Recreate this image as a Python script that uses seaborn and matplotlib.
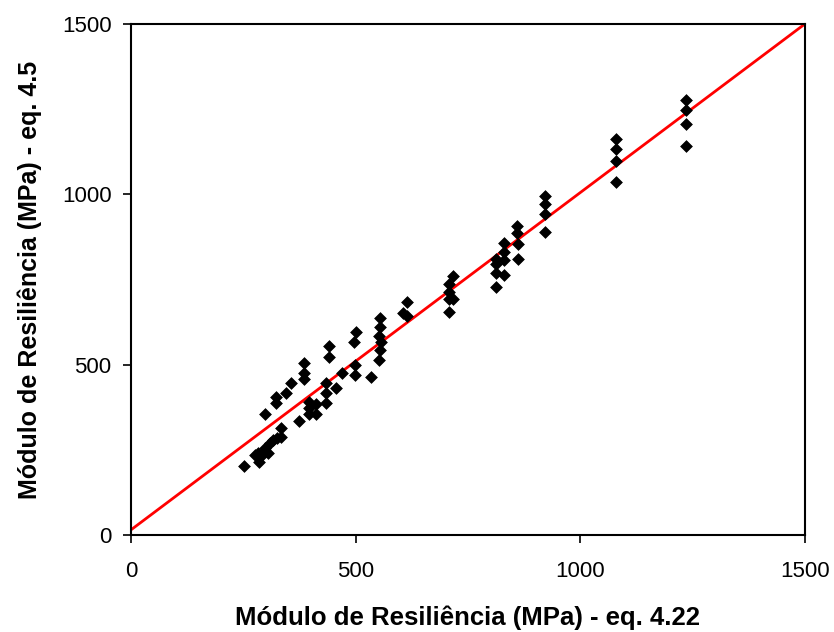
import numpy as np
import pandas as pd
import seaborn as sns
import matplotlib.pyplot as plt

# Modulo de resiliencia: eq. 4.22 (x) vs eq. 4.5 (y), values in MPa
mr_eq422 = [251, 276, 283, 285, 292, 298, 305, 309, 316, 325, 334, 334,
            298, 323, 323, 345, 356, 374, 385, 385, 385, 396, 396, 396,
            412, 412, 434, 434, 434, 456, 470, 441, 441, 496, 501, 499, 499,
            534, 554, 554, 552, 556, 554, 552, 614, 605, 614,
            717, 708, 708, 708, 717, 708,
            812, 812, 812, 812, 830, 830, 830, 830,
            859, 859, 861, 861, 921, 921, 921, 921,
            1079, 1079, 1079, 1079, 1235, 1235, 1235, 1235]
mr_eq45 = [202, 235, 241, 214, 235, 255, 241, 270, 279, 285, 314, 288,
           355, 405, 387, 417, 446, 335, 505, 475, 458, 390, 373, 355,
           385, 355, 446, 417, 387, 431, 475, 555, 522, 566, 596, 499, 470,
           464, 637, 611, 584, 566, 543, 514, 684, 652, 643,
           760, 737, 713, 693, 693, 655,
           728, 769, 795, 810, 763, 807, 831, 857,
           907, 886, 854, 810, 995, 972, 942, 889,
           1162, 1133, 1098, 1036, 1277, 1248, 1206, 1142]

# fitted line
line_x = [0, 1500]
line_y = [15, 1500]

df = pd.DataFrame({'x': mr_eq422, 'y': mr_eq45})

sns.set_style('ticks')
plt.rcParams['font.family'] = ['Liberation Sans', 'DejaVu Sans']

fig = plt.figure(figsize=(8.34, 6.32), dpi=100)
ax = fig.add_axes([0.157, 0.1535, 0.808, 0.8085])

sns.lineplot(x=line_x, y=line_y, color='#ff0000', linewidth=2, ax=ax)
sns.scatterplot(data=df, x='x', y='y', marker='D', s=36, color='black',
                edgecolor='black', linewidth=0.5, ax=ax, zorder=3)

ax.set_xlim(0, 1500)
ax.set_ylim(0, 1500)
ax.set_xticks([0, 500, 1000, 1500])
ax.set_yticks([0, 500, 1000, 1500])
ax.tick_params(labelsize=16, length=6, width=1.2, direction='out',
               colors='black', labelcolor='black')
ax.tick_params(axis='x', pad=13)
ax.tick_params(axis='y', pad=8)
for sp in ax.spines.values():
    sp.set_visible(True)
    sp.set_color('black')
    sp.set_linewidth(1.5)

ax.set_xlabel('Módulo de Resiliência (MPa) - eq. 4.22', fontsize=18.5,
              fontweight='bold', color='black', labelpad=17)
ax.set_ylabel('Módulo de Resiliência (MPa) - eq. 4.5', fontsize=18,
              fontweight='bold', color='black', labelpad=14)

plt.savefig('out.png', dpi=100)
